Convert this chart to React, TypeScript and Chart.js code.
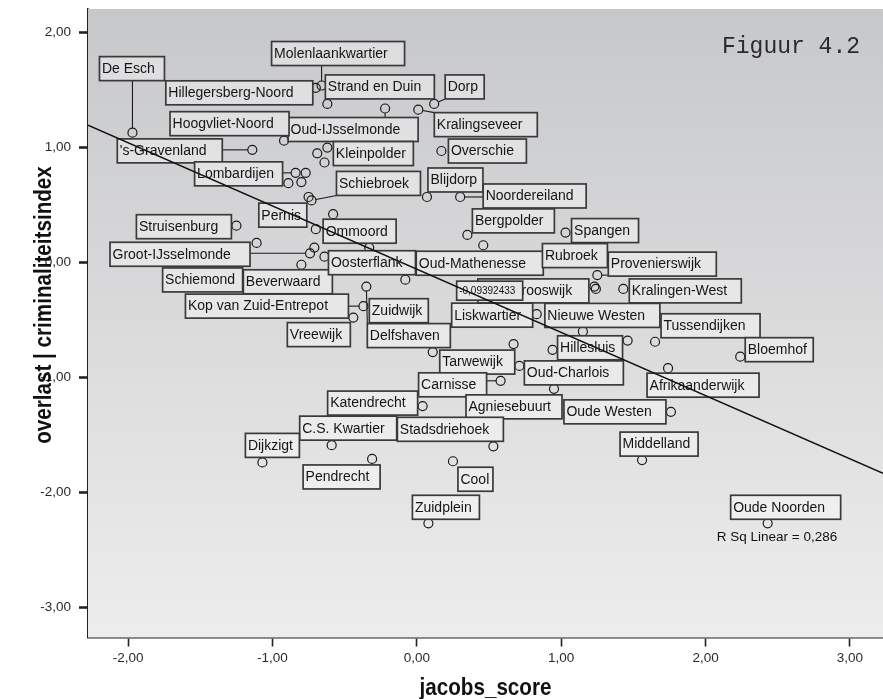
import { useEffect, useRef } from 'react'
import { Chart, registerables } from 'chart.js'

Chart.register(...registerables)

// wijken: jacobs_score (x) tegen overlast | criminaliteitsindex (y)
const NAMES = [
  'De Esch', 'Molenlaankwartier', 'Hillegersberg-Noord', 'Strand en Duin', 'Dorp',
  'Oud-IJsselmonde', 'Kralingseveer', 'Hoogvliet-Noord', "'s-Gravenland", 'Kleinpolder',
  'Overschie', 'Lombardijen', 'Schiebroek', 'Blijdorp', 'Noordereiland',
  'Bergpolder', 'Spangen', 'Pernis', 'Ommoord', 'Struisenburg',
  'Groot-IJsselmonde', 'Schiemond', 'Beverwaard', 'Oosterflank', 'Oud-Mathenesse',
  'Zuidwijk', 'Delfshaven', 'Kop van Zuid-Entrepot', 'Vreewijk', 'Tarwewijk',
  'Rubroek', 'Provenierswijk', 'Oud-Crooswijk', 'Kralingen-West', 'Liskwartier',
  'Nieuwe Westen', 'Tussendijken', 'Hillesluis', 'Bloemhof', 'Afrikaanderwijk',
  'Oud-Charlois', 'Carnisse', 'Agniesebuurt', 'Katendrecht', 'C.S. Kwartier',
  'Stadsdriehoek', 'Dijkzigt', 'Pendrecht', 'Cool', 'Zuidplein',
  'Oude Westen', 'Middelland', 'Oude Noorden',
  '', '', '', '', '', '', '', '', '', '',
]
const JACOBS = [
  -1.97, -0.66, -0.70, -0.62, 0.12,
  -0.22, 0.01, -0.92, -1.14, -0.62,
  0.17, -0.84, -0.73, 0.07, 0.30,
  0.35, 1.03, -0.70, -0.58, -1.25,
  -0.74, -1.11, -0.80, -0.64, 0.46,
  -0.08, -0.35, -0.37, -0.44, 0.11,
  1.23, 1.25, 1.24, 1.43, 0.83,
  1.15, 1.65, 0.94, 2.24, 1.74,
  0.71, 0.58, 0.95, 0.04, -0.59,
  0.53, -1.07, -0.31, 0.25, 0.08,
  1.76, 1.56, 2.43,
  -0.69, -0.64, -0.77, -0.89, -0.80, -0.75, -0.33, -0.71, 0.67, 1.46,
]
const OVERLAST = [
  1.13, 1.54, 1.52, 1.38, 1.38,
  1.34, 1.33, 1.06, 0.98, 1.0,
  0.97, 0.78, 0.54, 0.57, 0.57,
  0.24, 0.26, 0.29, 0.42, 0.32,
  0.08, 0.17, -0.02, 0.05, 0.15,
  -0.15, -0.21, -0.38, -0.48, -0.78,
  -0.21, -0.11, -0.23, -0.23, -0.45,
  -0.6, -0.69, -0.76, -0.82, -0.92,
  -0.9, -1.03, -1.1, -1.25, -1.59,
  -1.6, -1.74, -1.71, -1.73, -2.27,
  -1.3, -1.72, -2.27,
  0.95, 0.87, 0.78, 0.69, 0.7, 0.57, 0.13, 0.13, -0.71, -0.68,
]
const X_TICKS = [-2, -1, 0, 1, 2, 3]
const Y_TICKS = [-3, -2, -1, 0, 1, 2]
const FIT_INTERCEPT = -0.058
const FIT_SLOPE = -0.5502
const R_SQ_TEXT = 'R Sq Linear = 0,286'
const R_SQ_AT = { x: 2.495, y: -2.393 }
const X_MIN = -2.278
const X_MAX = 3.229
const Y_MIN = -3.264
const Y_MAX = 2.206

// label boxes: offset (px) of the box from its point, box width, leader line
type Lab = { text: string; at: string; dx: number; dy: number; w: number; h?: number; size?: number; lead?: boolean }
const LABELS: Lab[] = [
  { text: 'De Esch', at: 'De Esch', dx: -33, dy: -76, w: 65, lead: true },
  { text: 'Molenlaankwartier', at: 'Molenlaankwartier', dx: -50, dy: -44, w: 133, lead: true },
  { text: 'Hillegersberg-Noord', at: 'Hillegersberg-Noord', dx: -150, dy: -7, w: 147 },
  { text: 'Strand en Duin', at: 'Strand en Duin', dx: -2, dy: -29, w: 109 },
  { text: 'Dorp', at: 'Dorp', dx: 11, dy: -29, w: 39, lead: true },
  { text: 'Oud-IJsselmonde', at: 'Oud-IJsselmonde', dx: -97, dy: 9, w: 130, lead: true },
  { text: 'Kralingseveer', at: 'Kralingseveer', dx: 16, dy: 3, w: 103, lead: true },
  { text: 'Hoogvliet-Noord', at: 'Hoogvliet-Noord', dx: -114, dy: -29, w: 119 },
  { text: "'s-Gravenland", at: "'s-Gravenland", dx: -135, dy: -11, w: 105, lead: true },
  { text: 'Kleinpolder', at: 'Kleinpolder', dx: 6, dy: -6, w: 80 },
  { text: 'Overschie', at: 'Overschie', dx: 7, dy: -12, w: 78 },
  { text: 'Lombardijen', at: 'Lombardijen', dx: -101, dy: -11, w: 88, lead: true },
  { text: 'Schiebroek', at: 'Schiebroek', dx: 25, dy: -29, w: 84, lead: true },
  { text: 'Blijdorp', at: 'Blijdorp', dx: 1, dy: -29, w: 55 },
  { text: 'Noordereiland', at: 'Noordereiland', dx: 23, dy: -13, w: 103, lead: true },
  { text: 'Bergpolder', at: 'Bergpolder', dx: 5, dy: -26, w: 82 },
  { text: 'Spangen', at: 'Spangen', dx: 6, dy: -14, w: 67 },
  { text: 'Pernis', at: 'Pernis', dx: -57, dy: -26, w: 48 },
  { text: 'Ommoord', at: 'Ommoord', dx: -10, dy: 5, w: 73 },
  { text: 'Struisenburg', at: 'Struisenburg', dx: -100, dy: -11, w: 95 },
  { text: 'Groot-IJsselmonde', at: 'Groot-IJsselmonde', dx: -200, dy: -11, w: 140, lead: true },
  { text: 'Schiemond', at: 'Schiemond', dx: -94, dy: 25, w: 80 },
  { text: 'Beverwaard', at: 'Beverwaard', dx: -58, dy: 5, w: 89, lead: true },
  { text: 'Oosterflank', at: 'Oosterflank', dx: 4, dy: -6, w: 87 },
  { text: 'Oud-Mathenesse', at: 'Oud-Mathenesse', dx: -67, dy: 6, w: 127 },
  { text: 'Zuidwijk', at: 'Zuidwijk', dx: -36, dy: 19, w: 59 },
  { text: 'Delfshaven', at: 'Delfshaven', dx: 1, dy: 37, w: 83, lead: true },
  { text: 'Kop van Zuid-Entrepot', at: 'Kop van Zuid-Entrepot', dx: -178, dy: -12, w: 163, lead: true },
  { text: 'Vreewijk', at: 'Vreewijk', dx: -66, dy: 5, w: 63 },
  { text: 'Tarwewijk', at: 'Tarwewijk', dx: 7, dy: -2, w: 75 },
  { text: 'Rubroek', at: 'Rubroek', dx: -52, dy: -43, w: 65 },
  { text: 'Provenierswijk', at: 'Provenierswijk', dx: 11, dy: -23, w: 108, lead: true },
  { text: 'Oud-Crooswijk', at: 'Oud-Crooswijk', dx: -118, dy: -10, w: 111 },
  { text: 'Kralingen-West', at: 'Kralingen-West', dx: 6, dy: -10, w: 112 },
  { text: 'Liskwartier', at: 'Liskwartier', dx: -85, dy: -11, w: 81 },
  { text: 'Nieuwe Westen', at: 'Nieuwe Westen', dx: -38, dy: -28, w: 115, lead: true },
  { text: 'Tussendijken', at: 'Tussendijken', dx: 6, dy: -28, w: 99 },
  { text: 'Hillesluis', at: 'Hillesluis', dx: 5, dy: -14, w: 65 },
  { text: 'Bloemhof', at: 'Bloemhof', dx: 5, dy: -19, w: 68 },
  { text: 'Afrikaanderwijk', at: 'Afrikaanderwijk', dx: -21, dy: 5, w: 112, lead: true },
  { text: 'Oud-Charlois', at: 'Oud-Charlois', dx: 5, dy: -5, w: 99 },
  { text: 'Carnisse', at: 'Carnisse', dx: -82, dy: -8, w: 68, lead: true },
  { text: 'Agniesebuurt', at: 'Agniesebuurt', dx: -88, dy: 6, w: 96 },
  { text: 'Katendrecht', at: 'Katendrecht', dx: -95, dy: -15, w: 90 },
  { text: 'C.S. Kwartier', at: 'C.S. Kwartier', dx: -32, dy: -29, w: 97, lead: true },
  { text: 'Stadsdriehoek', at: 'Stadsdriehoek', dx: -96, dy: -29, w: 106, lead: true },
  { text: 'Dijkzigt', at: 'Dijkzigt', dx: -17, dy: -29, w: 54, lead: true },
  { text: 'Pendrecht', at: 'Pendrecht', dx: -69, dy: 6, w: 77 },
  { text: 'Cool', at: 'Cool', dx: 5, dy: 6, w: 35 },
  { text: 'Zuidplein', at: 'Zuidplein', dx: -16, dy: -28, w: 67, lead: true },
  { text: 'Oude Westen', at: 'Oude Westen', dx: -107, dy: -12, w: 102 },
  { text: 'Middelland', at: 'Middelland', dx: -22, dy: -28, w: 78, lead: true },
  { text: 'Oude Noorden', at: 'Oude Noorden', dx: -37, dy: -28, w: 110, lead: true },
  { text: '-0,09392433', at: 'Liskwartier', dx: -80, dy: -33, w: 66, h: 19, size: 10 },
]

const SANS = '"Liberation Sans", Arial, sans-serif'
const POINT_R = 4.5

const fmt = (v: number | string) => Number(v).toFixed(2).replace('.', ',')
const fit = (x: number) => FIT_INTERCEPT + FIT_SLOPE * x

const backdrop = {
  id: 'backdrop',
  beforeDatasetsDraw(chart: Chart) {
    const { ctx, chartArea: a } = chart
    const g = ctx.createLinearGradient(0, a.top, 0, a.bottom)
    g.addColorStop(0, '#c7c8ca')
    g.addColorStop(1, '#ededed')
    ctx.save()
    ctx.fillStyle = g
    ctx.fillRect(a.left, a.top, a.right - a.left, a.bottom - a.top)
    ctx.restore()
  },
}

const caseLabels = {
  id: 'caseLabels',
  afterDatasetDraw(chart: Chart, args: { index: number }) {
    if (args.index !== 0) return
    const { ctx, chartArea: a } = chart
    const sx = chart.scales.x
    const sy = chart.scales.y
    const boxFill = ctx.createLinearGradient(0, a.top, 0, a.bottom)
    boxFill.addColorStop(0, '#dcdcde')
    boxFill.addColorStop(1, '#f4f4f4')
    ctx.save()
    ctx.textBaseline = 'middle'
    for (const lab of LABELS) {
      const i = NAMES.indexOf(lab.at)
      const px = sx.getPixelForValue(JACOBS[i])
      const py = sy.getPixelForValue(OVERLAST[i])
      const bx = px + lab.dx
      const by = py + lab.dy
      const bh = lab.h ?? 24
      if (lab.lead) {
        const cx = Math.min(Math.max(px, bx), bx + lab.w)
        const cy = Math.min(Math.max(py, by), by + bh)
        const d = Math.hypot(cx - px, cy - py)
        if (d > POINT_R) {
          ctx.beginPath()
          ctx.moveTo(px + ((cx - px) / d) * POINT_R, py + ((cy - py) / d) * POINT_R)
          ctx.lineTo(cx, cy)
          ctx.strokeStyle = '#1a1a1a'
          ctx.lineWidth = 1.1
          ctx.stroke()
        }
      }
      ctx.fillStyle = boxFill
      ctx.fillRect(bx, by, lab.w, bh)
      ctx.strokeStyle = '#3a3a3a'
      ctx.lineWidth = 1.7
      ctx.strokeRect(bx, by, lab.w, bh)
      ctx.fillStyle = '#151515'
      ctx.font = `${lab.size ?? 14}px ${SANS}`
      ctx.fillText(lab.text, bx + 2.5, by + bh / 2 + 0.5)
    }
    ctx.restore()
  },
}

const annotations = {
  id: 'annotations',
  afterDraw(chart: Chart) {
    const { ctx, chartArea: a } = chart
    const sx = chart.scales.x
    const sy = chart.scales.y
    ctx.save()
    ctx.fillStyle = '#111'
    ctx.textAlign = 'center'
    ctx.textBaseline = 'middle'
    ctx.font = `13.5px ${SANS}`
    ctx.fillText(R_SQ_TEXT, sx.getPixelForValue(R_SQ_AT.x), sy.getPixelForValue(R_SQ_AT.y))

    ctx.font = '23px "Liberation Mono", "Courier New", monospace'
    ctx.fillStyle = '#2a2a2a'
    ctx.textAlign = 'left'
    ctx.textBaseline = 'alphabetic'
    ctx.fillText('Figuur 4.2', a.right - 161, a.top + 44)

    ctx.fillStyle = '#111'
    ctx.textAlign = 'center'
    ctx.textBaseline = 'middle'
    ctx.font = `bold 24px ${SANS}`
    ctx.save()
    ctx.translate((a.left + a.right) / 2, chart.height - 11)
    ctx.scale(0.86, 1)
    ctx.fillText('jacobs_score', 0, 0)
    ctx.restore()
    ctx.save()
    ctx.translate(44, a.top + 296)
    ctx.rotate(-Math.PI / 2)
    ctx.scale(0.86, 1)
    ctx.fillText('overlast | criminaliteitsindex', 0, 0)
    ctx.restore()
    ctx.restore()
  },
}

export default function App() {
  const canvasRef = useRef<HTMLCanvasElement | null>(null)

  useEffect(() => {
    document.body.style.margin = '0'
    if (!canvasRef.current) return undefined
    const tickFont = { family: SANS, size: 13.5 }
    const chart = new Chart(canvasRef.current, {
      type: 'scatter',
      data: {
        datasets: [
          {
            type: 'scatter',
            data: JACOBS.map((x, i) => ({ x, y: OVERLAST[i] })),
            pointRadius: POINT_R,
            pointBorderWidth: 1.2,
            pointBorderColor: '#1a1a1a',
            pointBackgroundColor: 'rgba(0,0,0,0)',
            order: 2,
          },
          {
            type: 'line',
            data: [
              { x: X_MIN, y: fit(X_MIN) },
              { x: X_MAX, y: fit(X_MAX) },
            ],
            borderColor: '#111',
            borderWidth: 1.4,
            pointRadius: 0,
            fill: false,
            order: 1,
          },
        ],
      },
      options: {
        animation: false,
        responsive: false,
        events: [],
        layout: { autoPadding: false, padding: { top: 9, left: 0, right: 0, bottom: 0 } },
        plugins: { legend: { display: false }, tooltip: { enabled: false } },
        scales: {
          x: {
            type: 'linear',
            min: X_MIN,
            max: X_MAX,
            afterBuildTicks: (scale) => {
              scale.ticks = X_TICKS.map((value) => ({ value }))
            },
            afterFit: (scale) => {
              scale.height = 61.5
              scale.paddingLeft = 0
              scale.paddingRight = 0
              scale.paddingTop = 0
              scale.paddingBottom = 0
            },
            grid: { drawOnChartArea: false, tickLength: 9, tickWidth: 1.6, tickColor: '#222' },
            border: { color: '#222', width: 1.6 },
            ticks: { callback: fmt, color: '#2a2a2a', font: tickFont, padding: 4, maxRotation: 0 },
          },
          y: {
            type: 'linear',
            min: Y_MIN,
            max: Y_MAX,
            afterBuildTicks: (scale) => {
              scale.ticks = Y_TICKS.map((value) => ({ value }))
            },
            afterFit: (scale) => {
              scale.width = 88
              scale.paddingLeft = 0
              scale.paddingRight = 0
              scale.paddingTop = 0
              scale.paddingBottom = 0
            },
            grid: { drawOnChartArea: false, tickLength: 9, tickWidth: 2.6, tickColor: '#222' },
            border: { color: '#222', width: 1.6 },
            ticks: { callback: fmt, color: '#2a2a2a', font: tickFont, padding: 8 },
          },
        },
      },
      plugins: [backdrop, caseLabels, annotations],
    })
    return () => chart.destroy()
  }, [])

  return (
    <div style={{ position: 'absolute', left: 0, top: 0, width: 883, height: 699 }}>
      <canvas ref={canvasRef} width={883} height={699} style={{ width: 883, height: 699 }} />
    </div>
  )
}
